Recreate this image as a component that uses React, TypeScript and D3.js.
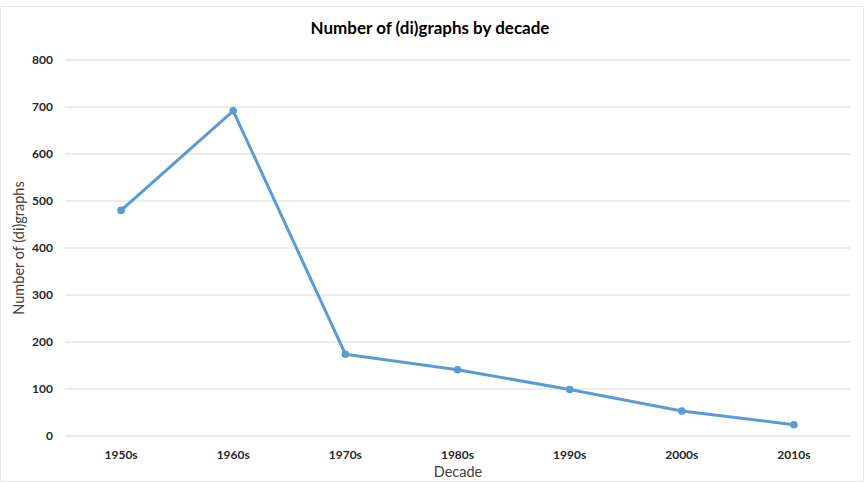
import React from "react";
import * as d3 from "d3";

const categories = ["1950s", "1960s", "1970s", "1980s", "1990s", "2000s", "2010s"];
const values = [480, 692, 174, 141, 99, 53, 24];
const yTicks = [0, 100, 200, 300, 400, 500, 600, 700, 800];

const W = 864;
const H = 482;
const left = 65;
const right = 850;
const top = 60;
const bottom = 436;

export default function App() {
  const x = d3.scaleBand<string>().domain(categories).range([left, right]);
  const y = d3.scaleLinear().domain([0, 800]).range([bottom, top]);
  const line = d3
    .line<number>()
    .x((_, i) => (x(categories[i]) as number) + x.bandwidth() / 2)
    .y((d) => y(d));
  const font = "Lato, 'Open Sans', 'Liberation Sans', sans-serif";
  return (
    <svg
      width={W}
      height={H}
      style={{ position: "absolute", left: 0, top: 0, display: "block", background: "#fff" }}
      fontFamily={font}
    >
      <rect x={0.5} y={6.5} width={W - 1} height={H - 7} fill="#fff" stroke="#e6e6e6" strokeWidth={1} />
      <text x={430} y={34} textAnchor="middle" fontSize={17} fontWeight="bold" fill="#000">
        Number of (di)graphs by decade
      </text>
      {yTicks.map((t) => (
        <g key={t}>
          <line x1={left} x2={right} y1={y(t)} y2={y(t)} stroke="#d9d9d9" strokeWidth={1} />
          <text x={53} y={y(t) + 4} textAnchor="end" fontSize={12} fontWeight="bold" fill="#262626">
            {t}
          </text>
        </g>
      ))}
      {categories.map((c) => (
        <text
          key={c}
          x={(x(c) as number) + x.bandwidth() / 2}
          y={459}
          textAnchor="middle"
          fontSize={12}
          fontWeight="bold"
          fill="#262626"
        >
          {c}
        </text>
      ))}
      <text x={458} y={477} textAnchor="middle" fontSize={14.5} fill="#404040">
        Decade
      </text>
      <text
        transform={`translate(24,${(top + bottom) / 2}) rotate(-90)`}
        textAnchor="middle"
        fontSize={14.5}
        fill="#404040"
      >
        Number of (di)graphs
      </text>
      <path d={line(values) || ""} fill="none" stroke="#5B9BD5" strokeWidth={3} strokeLinejoin="round" />
      {values.map((v, i) => (
        <circle
          key={i}
          cx={(x(categories[i]) as number) + x.bandwidth() / 2}
          cy={y(v)}
          r={3.8}
          fill="#5B9BD5"
        />
      ))}
    </svg>
  );
}
